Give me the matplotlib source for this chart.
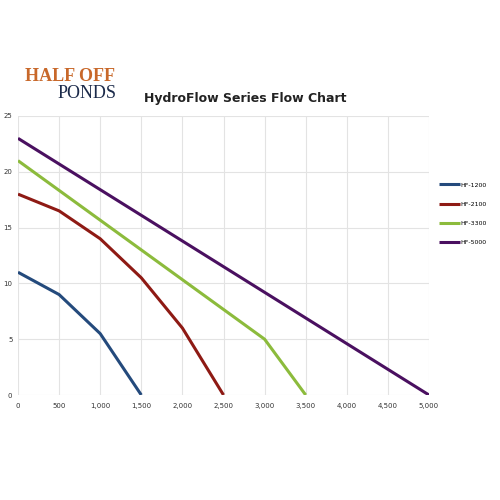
import matplotlib
matplotlib.use("Agg")
import matplotlib.pyplot as plt
from matplotlib.ticker import FuncFormatter

# 数据
hf1200_x = [0, 500, 1000, 1500]
hf1200_y = [11, 9, 5.5, 0]
hf2100_x = [0, 500, 1000, 1500, 2000, 2500]
hf2100_y = [18, 16.5, 14, 10.5, 6, 0]
hf3300_x = [0, 3000, 3500]
hf3300_y = [21, 5, 0]
hf5000_x = [0, 5000]
hf5000_y = [23, 0]
labels = ["HF-1200", "HF-2100", "HF-3300", "HF-5000"]
colors = ["#244a7c", "#8e1a14", "#8cbb3c", "#4a1060"]

fig = plt.figure(figsize=(5, 5), dpi=100)
ax = fig.add_axes([0.036, 0.21, 0.822, 0.558])

series = [(hf1200_x, hf1200_y), (hf2100_x, hf2100_y), (hf3300_x, hf3300_y), (hf5000_x, hf5000_y)]
for (x, y), lab, c in zip(series, labels, colors):
    ax.plot(x, y, color=c, lw=2.2, label=lab, solid_capstyle="butt")

ax.set_xlim(0, 5000)
ax.set_ylim(0, 25)
ax.set_xticks(range(0, 5001, 500))
ax.set_yticks(range(0, 26, 5))
ax.xaxis.set_major_formatter(FuncFormatter(lambda v, p: f"{int(v):,}"))
ax.grid(True, color="#e3e3e3", lw=0.8)
for s in ax.spines.values():
    s.set_visible(False)
ax.tick_params(length=0, labelsize=5, colors="#333333", pad=6)
ax.tick_params(axis="y", pad=4)

ax.legend(loc="center left", bbox_to_anchor=(1.01, 0.65), frameon=False,
          fontsize=4.5, handlelength=3.4, labelspacing=2.2, handletextpad=0.1)

fig.text(0.49, 0.803, "HydroFlow Series Flow Chart", ha="center", va="center",
         fontsize=9, fontweight="bold", color="#222222")

# logo
fig.text(0.14, 0.847, "HALF OFF", ha="center", va="center", fontsize=13,
         fontweight="bold", family="Liberation Serif", color="#c8682a")
fig.text(0.175, 0.813, "PONDS", ha="center", va="center", fontsize=13,
         family="Liberation Serif", color="#1b2a4a")

fig.savefig("out.png", dpi=100, facecolor="white")
